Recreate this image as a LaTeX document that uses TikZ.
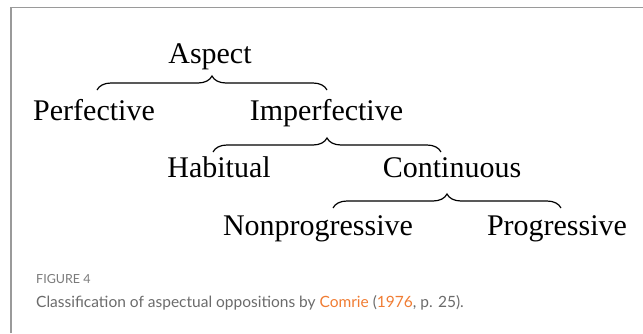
\documentclass[tikz,border=0pt]{standalone}
\usepackage{fontspec}
\setmainfont{Liberation Serif}
\newfontfamily\capfont{Lato}
\usetikzlibrary{decorations.pathreplacing}
\definecolor{framegray}{HTML}{9A9A9A}
\definecolor{figgray}{HTML}{7A7A7A}
\definecolor{capgray}{HTML}{6B6B6B}
\definecolor{linkorange}{HTML}{F07C33}
\begin{document}
\begin{tikzpicture}[x=1pt,y=-1pt,
  term/.style={anchor=base, inner sep=0pt, font=\fontsize{30}{30}\selectfont},
  bracelink/.style={decorate, decoration={brace, amplitude=14pt}, line width=1.2pt},
  captext/.style={anchor=base west, inner sep=0pt},
]
\useasboundingbox (0,0) rectangle (643,333);
\draw[framegray, line width=1.5pt] (11,333) -- (11,7.5) -- (643,7.5);

\node[term] (aspect) at (210,63) {Aspect};
\node[term] (perf) at (94,120) {Perfective};
\node[term] (imperf) at (326.5,120) {Imperfective};
\node[term] (habit) at (219,177) {Habitual};
\node[term] (cont) at (452,177) {Continuous};
\node[term] (nonprog) at (318,235) {Nonprogressive};
\node[term] (prog) at (557,235) {Progressive};

\coordinate (b1l) at (97,90);
\coordinate (b1r) at (327,90);
\coordinate (b2l) at (213,152);
\coordinate (b2r) at (441,152);
\coordinate (b3l) at (333,208);
\coordinate (b3r) at (561,208);
\draw[bracelink] (b1l) -- (b1r);
\draw[bracelink] (b2l) -- (b2r);
\draw[bracelink] (b3l) -- (b3r);

\node[captext, text=figgray, font=\capfont\fontsize{12.5}{12.5}\selectfont] (fig) at (36,283) {FIGURE 4};
\node[captext, text=capgray, font=\capfont\fontsize{15.5}{15.5}\selectfont] (cap) at (36,307) {Classification of aspectual oppositions by \textcolor{linkorange}{Comrie} (\textcolor{linkorange}{1976}, p. 25).};
\end{tikzpicture}
\end{document}
